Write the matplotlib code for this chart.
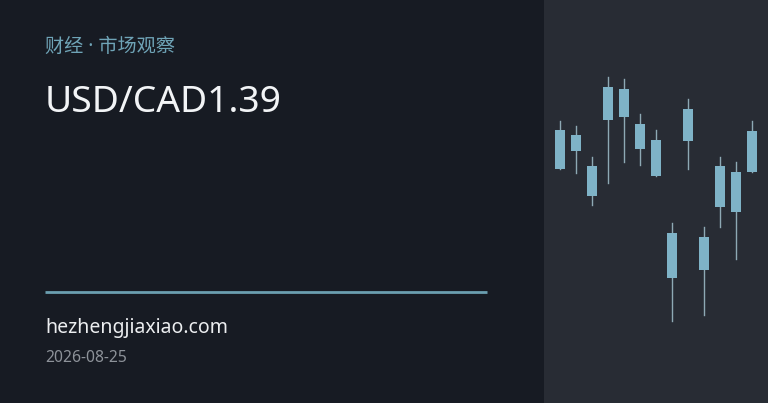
import matplotlib
matplotlib.use("Agg")
import matplotlib.pyplot as plt
from matplotlib.patches import Rectangle

plt.rcParams['font.family'] = ['Noto Sans', 'Noto Sans CJK SC', 'DejaVu Sans']

# ---- data ----
subtitle = "财经 · 市场观察"
title = "USD/CAD1.39"
site = "hezhengjiaxiao.com"
date = "2026-08-25"

# candle values (arbitrary price index units)
opens  = [233.7, 252.3, 207.3, 283.3, 286.3, 253.7, 226.7, 124.7, 262.0, 133.3, 196.0, 190.7, 231.3]
closes = [272.7, 267.7, 236.7, 315.7, 314.0, 279.0, 263.0, 170.3, 294.3, 166.3, 236.7, 231.0, 272.0]
highs  = [282.3, 277.3, 246.3, 325.7, 324.0, 288.7, 272.7, 179.7, 304.0, 176.3, 246.3, 240.7, 282.0]
lows   = [233.7, 229.7, 198.3, 220.0, 241.3, 237.7, 226.7,  82.0, 233.7,  88.0, 175.7, 143.7, 231.3]

W, H = 768, 403
fig = plt.figure(figsize=(W / 100, H / 100), dpi=100)
fig.patch.set_facecolor('#171b23')

# left panel
axL = fig.add_axes([0, 0, 544 / W, 1])
axL.set_xlim(0, 544)
axL.set_ylim(H, 0)
axL.axis('off')
axL.set_facecolor('#171b23')

axL.text(45, 47, subtitle, color='#6fa4b7', fontsize=13.8, va='center', ha='left')
axL.text(44.5, 112, title, color='#f2f4f6', fontsize=26.8, va='baseline', ha='left')
axL.plot([45, 487], [292, 292], color='#6b9fb0', lw=2, solid_capstyle='butt')
axL.text(45, 333, site, color='#eceef0', fontsize=14, va='baseline', ha='left')
axL.text(45, 362, date, color='#8d9299', fontsize=11.3, va='baseline', ha='left')

# right panel
axR = fig.add_axes([544 / W, 0, 224 / W, 1])
axR.set_facecolor('#282c34')
axR.set_xlim(-1.0, 13.0)
axR.set_ylim(0, 403)
axR.set_xticks([])
axR.set_yticks([])
for s in axR.spines.values():
    s.set_visible(False)

body_w = 10 / 16
for i, (o, c, h, l) in enumerate(zip(opens, closes, highs, lows)):
    axR.plot([i, i], [l, h], color='#8ea9b4', lw=1.0, zorder=1)
    lo, hi = min(o, c), max(o, c)
    axR.add_patch(Rectangle((i - body_w / 2, lo), body_w, hi - lo,
                            facecolor='#7fb3c7', edgecolor='none', zorder=2))

fig.savefig('out.png', dpi=100, facecolor=fig.get_facecolor())
